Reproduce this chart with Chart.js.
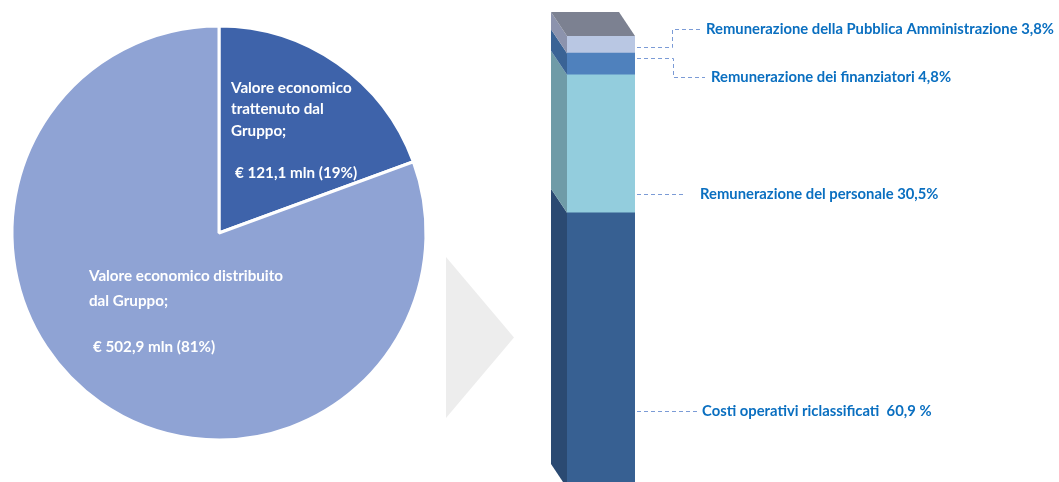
<!DOCTYPE html>
<html>
<head>
<meta charset="utf-8">
<script src="https://cdn.jsdelivr.net/npm/chart.js@4"></script>
<style>
  html, body { margin: 0; padding: 0; background: #fff; }
  #wrap { position: relative; width: 1059px; height: 482px; overflow: hidden; }
  #torta { position: absolute; left: 0; top: 0; }
  #barra { position: absolute; left: 540px; top: 0; }
  #freccia {
    position: absolute; left: 446px; top: 257px; width: 68px; height: 161px;
    background: #ededed; clip-path: polygon(0 0, 100% 50%, 0 100%);
  }
</style>
</head>
<body>
<div id="wrap">
  <canvas id="torta" width="440" height="482"></canvas>
  <div id="freccia"></div>
  <canvas id="barra" width="519" height="500"></canvas>
</div>
<script>
// torta: valore economico (mln €)
const voci = ['Valore economico trattenuto dal Gruppo', 'Valore economico distribuito dal Gruppo'];
const valori = [121.1, 502.9];
const coloriTorta = ['#3e63aa', '#8fa3d4'];

// barra: distribuzione del valore (%), dal basso verso l'alto
const quote = ['Costi operativi riclassificati', 'Remunerazione del personale', 'Remunerazione dei finanziatori', 'Remunerazione della Pubblica Amministrazione'];
const percentuali = [60.9, 30.5, 4.8, 3.8];
const etichette = ['Costi operativi riclassificati  60,9 %', 'Remunerazione del personale 30,5%', 'Remunerazione dei finanziatori 4,8%', 'Remunerazione della Pubblica Amministrazione 3,8%'];
const coloriFronte = ['#376092', '#93cddd', '#4f81bd', '#b9c7e3'];
const coloriLato = ['#2b4a72', '#6f9ba7', '#3a6395', '#8c93ad'];
const coloreTop = '#7c8191';

const fontTesto = 'Lato, "Open Sans", sans-serif';

const testiTorta = {
  id: 'testiTorta',
  afterDraw(chart) {
    const ctx = chart.ctx;
    const arc = chart.getDatasetMeta(0).data[0];
    const cx = arc.x, cy = arc.y;
    ctx.save();
    ctx.fillStyle = '#fff';
    ctx.font = 'bold 15.2px ' + fontTesto;
    ctx.textBaseline = 'middle';
    ctx.textAlign = 'left';
    ctx.fillText('Valore economico', cx + 12, cy - 145);
    ctx.fillText('trattenuto dal', cx + 12, cy - 124);
    ctx.fillText('Gruppo;', cx + 12, cy - 102);
    ctx.fillText('€ ' + valori[0].toFixed(1).replace('.', ',') + ' mln (19%)', cx + 16, cy - 60);
    ctx.fillText('Valore economico distribuito', cx - 130, cy + 43);
    ctx.fillText('dal Gruppo;', cx - 130, cy + 68);
    ctx.fillText('€ ' + valori[1].toFixed(1).replace('.', ',') + ' mln (81%)', cx - 126, cy + 114);
    ctx.restore();
  }
};

new Chart(document.getElementById('torta'), {
  type: 'pie',
  data: {
    labels: voci,
    datasets: [{ data: valori, backgroundColor: coloriTorta, borderColor: '#fff', borderWidth: 3 }]
  },
  options: {
    responsive: false,
    animation: false,
    layout: { padding: { left: 10.5, right: 12.5, top: 24.5, bottom: 40.5 } },
    plugins: { legend: { display: false }, tooltip: { enabled: false } }
  },
  plugins: [testiTorta]
});

// effetto 3D + linee guida
const DX = -16, DY = -24;
const guide = [
  { y: 411, x1: 697, tx: 702, ty: 411 },
  { y: 194, x1: 686, tx: 700, ty: 194 },
  { y: 58, xv: 673, yv: 77, x1: 705, tx: 711, ty: 77 },
  { y: 47, xv: 672, yv: 29, x1: 701, tx: 706, ty: 29 }
];

const barra3d = {
  id: 'barra3d',
  afterDatasetsDraw(chart) {
    const ctx = chart.ctx;
    const off = 540;
    ctx.save();
    let topEl = null;
    chart.data.datasets.forEach((ds, i) => {
      const el = chart.getDatasetMeta(i).data[0];
      const left = el.x - el.width / 2;
      ctx.fillStyle = coloriLato[i];
      ctx.beginPath();
      ctx.moveTo(left, el.y);
      ctx.lineTo(left + DX, el.y + DY);
      ctx.lineTo(left + DX, el.base + DY);
      ctx.lineTo(left, el.base);
      ctx.closePath();
      ctx.fill();
      topEl = el;
    });
    const l = topEl.x - topEl.width / 2, r = topEl.x + topEl.width / 2;
    ctx.fillStyle = coloreTop;
    ctx.beginPath();
    ctx.moveTo(l, topEl.y);
    ctx.lineTo(r, topEl.y);
    ctx.lineTo(r + DX, topEl.y + DY);
    ctx.lineTo(l + DX, topEl.y + DY);
    ctx.closePath();
    ctx.fill();

    // linee tratteggiate ed etichette
    ctx.strokeStyle = '#7b9bd6';
    ctx.lineWidth = 1;
    ctx.setLineDash([4, 3]);
    ctx.font = 'bold 14.8px ' + fontTesto;
    ctx.fillStyle = '#0a6fc0';
    ctx.textBaseline = 'middle';
    guide.forEach((g, i) => {
      ctx.beginPath();
      ctx.moveTo(r + 2, g.y + 0.5);
      if (g.xv) {
        ctx.lineTo(g.xv - off + 0.5, g.y + 0.5);
        ctx.lineTo(g.xv - off + 0.5, g.yv + 0.5);
        ctx.lineTo(g.x1 - off, g.yv + 0.5);
      } else {
        ctx.lineTo(g.x1 - off, g.y + 0.5);
      }
      ctx.stroke();
      ctx.fillText(etichette[i], g.tx - off, g.ty);
    });
    ctx.restore();
  }
};

new Chart(document.getElementById('barra'), {
  type: 'bar',
  data: {
    labels: [''],
    datasets: quote.map((q, i) => ({
      label: q,
      data: [percentuali[i]],
      backgroundColor: coloriFronte[i],
      borderWidth: 0,
      barPercentage: 1,
      categoryPercentage: 1
    }))
  },
  options: {
    responsive: false,
    animation: false,
    layout: { padding: { left: 27, right: 424, top: 36, bottom: 12 } },
    scales: {
      x: { display: false, stacked: true },
      y: { display: false, stacked: true, min: 0, max: 100 }
    },
    plugins: { legend: { display: false }, tooltip: { enabled: false } }
  },
  plugins: [barra3d]
});
</script>
</body>
</html>
